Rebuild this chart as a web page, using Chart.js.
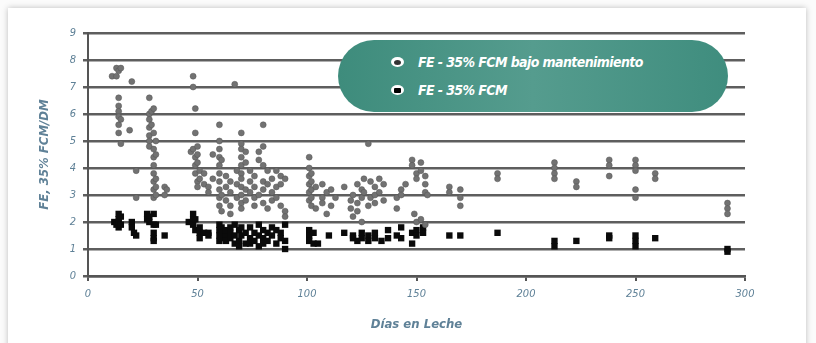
<!DOCTYPE html>
<html>
<head>
<meta charset="utf-8">
<script src="https://cdn.jsdelivr.net/npm/chart.js@4/dist/chart.umd.min.js"></script>
<style>
  html, body { margin: 0; padding: 0; background: #f4f4f4; }
  .wrap { position: relative; width: 816px; height: 343px; overflow: hidden; background: #fbfbfb; }
  .card { position: absolute; left: 8px; top: 8px; width: 798px; height: 345px; background: #fff;
          box-shadow: 0 0 6px rgba(0,0,0,0.25); }
  canvas { position: absolute; left: 0; top: 0; }
  .legend { position: absolute; left: 338px; top: 40px; width: 390px; height: 72px; border-radius: 36px;
            background: linear-gradient(90deg, #3e8c7c, #559c8e 50%, #3f8d7e);
            font-family: "DejaVu Sans Condensed", "Liberation Sans", sans-serif;
            font-style: italic; font-weight: bold; color: #fff; font-size: 14px; letter-spacing: -0.6px; }
  .legend div { position: absolute; left: 80px; white-space: nowrap; }
  .legend span.m { position: absolute; left: -27px; top: 3px; width: 13px; height: 10px; border-radius: 50%; background: #fff; }
  .legend span.m i { position: absolute; left: 3px; top: 2.5px; width: 7px; height: 5px; background: #333; border-radius: 50%; }
  .legend span.m i.sq { border-radius: 1px; background: #000; }
</style>
</head>
<body>
<div class="wrap">
  <div class="card"></div>
  <canvas id="c" width="816" height="343"></canvas>
  <div class="legend">
    <div style="top:14px"><span class="m"><i></i></span>FE - 35% FCM bajo mantenimiento</div>
    <div style="top:42px"><span class="m"><i class="sq"></i></span>FE - 35% FCM</div>
  </div>
</div>
<script>
// FE - 35% FCM bajo mantenimiento (grey)
const greyDays = [
  11, 13, 13, 14, 14, 14, 14, 14, 14, 14, 15, 15, 15,
  20, 19, 22, 22,
  28, 28, 28, 28, 28, 28, 28, 29, 29,
  30, 30, 30, 30, 30, 30, 30, 30, 30, 31, 31, 31, 31, 31,
  35, 35, 36,
  47, 48, 48, 48, 49, 49, 49, 49, 49, 50, 50, 50, 50, 50, 51, 51, 53, 53, 55, 55, 57, 57,
  60, 60, 60, 60, 60, 60, 60, 60, 60, 60, 61, 61, 61, 63, 63, 63, 65, 65, 65, 65,
  67, 68, 68, 68,
  70, 70, 70, 70, 70, 70, 70, 70, 70, 70, 70, 72, 72, 72, 72, 74, 74, 74, 76, 76, 76, 76,
  78, 78, 78, 80, 80, 80, 80, 80, 80, 82, 82, 82, 84, 84, 84, 86, 86, 86, 88, 88, 88, 90, 90, 90,
  101, 101, 101, 101, 101, 101, 102, 102, 102, 102, 102, 104, 104, 107, 107, 107, 109, 109, 111, 111, 113,
  117, 120, 120, 121, 121, 123, 123, 123, 125, 125, 125, 126, 126, 128, 128, 129, 129,
  131, 131, 131, 133, 133, 135, 135, 141, 141, 143, 143, 145,
  148, 148, 149, 150, 150, 150, 152, 152, 152, 154, 154, 154, 154, 155,
  165, 165, 170, 170, 170, 187, 187,
  213, 213, 213, 213, 223, 223, 238, 238, 238, 250, 250, 250, 250, 250, 259, 259, 292, 292, 292
];
const greyFE = [
  7.4, 7.4, 7.7, 7.6, 6.6, 6.3, 6.1, 5.9, 5.6, 5.3, 4.9, 5.8, 7.7,
  7.2, 5.4, 3.9, 2.9,
  6.6, 6.0, 5.8, 5.5, 5.2, 5.0, 4.8, 6.1, 5.6,
  6.2, 5.3, 4.7, 4.4, 4.1, 3.8, 3.5, 3.2, 2.9, 5.0, 4.5, 3.6, 3.0, 3.3,
  3.3, 3.0, 3.2,
  4.6, 7.4, 7.0, 4.7, 6.2, 5.3, 4.4, 4.1, 3.8, 4.8, 4.5, 4.2, 3.5, 3.3, 3.9, 3.6, 3.8, 3.4, 3.3, 3.1, 4.5, 3.6,
  5.6, 5.0, 4.7, 4.4, 4.1, 3.8, 3.5, 3.2, 2.9, 2.6, 4.3, 3.0, 2.4, 3.7, 3.3, 2.8, 3.5, 3.1, 2.6, 2.3,
  7.1, 3.9, 3.4, 2.9,
  5.3, 4.9, 4.7, 4.4, 4.1, 3.8, 3.6, 3.3, 3.0, 2.7, 2.5, 4.6, 4.2, 3.2, 2.8, 3.9, 3.5, 3.1, 3.7, 3.3, 2.9, 2.6,
  4.6, 4.3, 3.0, 5.6, 4.8, 4.1, 3.5, 3.2, 2.7, 3.9, 3.4, 2.5, 3.6, 3.1, 2.8, 3.9, 3.3, 2.9, 3.7, 3.4, 2.6, 3.6, 2.4, 2.2,
  4.4, 4.0, 3.7, 3.4, 3.1, 2.8, 3.8, 3.5, 3.2, 2.9, 2.6, 3.3, 2.5, 3.4, 2.9, 2.7, 2.3, 3.1, 2.6, 3.2, 2.9,
  3.3, 2.8, 2.5, 3.0, 2.2, 3.4, 2.7, 2.4, 2.9, 3.2, 2.0, 3.6, 3.1, 4.9, 2.6, 3.5, 2.9,
  3.3, 3.0, 2.7, 3.6, 3.1, 3.4, 2.8, 2.9, 2.5, 3.2, 3.0, 3.4,
  4.3, 4.1, 2.3, 3.8, 3.6, 2.0, 4.2, 3.9, 2.1, 3.7, 3.4, 3.1, 1.9, 3.0,
  3.3, 3.1, 3.2, 2.9, 2.6, 3.8, 3.6,
  4.2, 4.0, 3.8, 3.6, 3.5, 3.3, 4.3, 4.1, 3.7, 4.3, 4.1, 3.9, 3.2, 2.9, 3.8, 3.6, 2.7, 2.5, 2.3
];

// FE - 35% FCM (black)
const blackDays = [
  12, 13, 14, 14, 14, 14, 15, 15, 20, 20, 21, 22,
  27, 27, 28, 28, 30, 30, 30, 30, 30, 31, 35,
  46, 48, 48, 48, 49, 49, 51, 51, 51, 53, 55, 55,
  60, 60, 60, 60, 61, 61, 61, 63, 63, 63, 65, 65, 65, 67, 67, 67, 69, 69, 69, 70, 70,
  72, 72, 74, 74, 74, 76, 76, 78, 78, 78, 80, 80, 80, 82, 82, 84, 84, 86, 86, 88, 88, 90, 90, 90,
  101, 101, 101, 103, 103, 105, 110, 117, 121, 121, 123, 125, 125, 128, 128, 131, 131, 134,
  137, 137, 141, 143, 143, 148, 148, 150, 150, 153, 153,
  165, 170, 187, 213, 213, 223, 238, 238, 250, 250, 250, 259, 292, 292
];
const blackFE = [
  2.0, 1.9, 2.3, 2.1, 2.0, 1.8, 2.2, 1.9, 2.0, 1.8, 1.6, 1.5,
  2.3, 2.1, 2.2, 2.0, 2.3, 1.9, 1.6, 1.4, 1.3, 1.9, 1.5,
  2.0, 2.3, 2.1, 1.9, 2.1, 1.7, 1.4, 1.6, 1.8, 1.6, 1.6, 1.5,
  1.9, 1.7, 1.5, 1.3, 1.8, 1.6, 1.4, 1.5, 1.3, 1.7, 1.8, 1.4, 1.6, 1.9, 1.5, 1.2, 1.7, 1.3, 1.1, 1.5, 1.8,
  1.6, 1.2, 1.8, 1.4, 1.2, 1.6, 1.3, 1.9, 1.5, 1.1, 1.7, 1.4, 1.2, 1.6, 1.3, 1.8, 1.5, 1.7, 1.2, 1.6, 1.4, 1.9, 1.3, 1.0,
  1.7, 1.5, 1.3, 1.6, 1.2, 1.2, 1.5, 1.6, 1.5, 1.4, 1.3, 1.6, 1.4, 1.5, 1.3, 1.6, 1.4, 1.3,
  1.7, 1.4, 1.5, 1.8, 1.4, 1.6, 1.2, 1.7, 1.5, 1.6, 1.8,
  1.5, 1.5, 1.6, 1.3, 1.1, 1.3, 1.5, 1.4, 1.5, 1.3, 1.1, 1.4, 1.0, 0.9
];

const xTicks = [0, 50, 100, 150, 200, 250, 300];
const yTicks = [0, 1, 2, 3, 4, 5, 6, 7, 8, 9];

const fam = '"DejaVu Sans Condensed", "Liberation Sans", sans-serif';
const axisFont = { family: fam, size: 11, style: 'italic' };
const titleFont = { family: fam, size: 13, style: 'italic', weight: 'bold' };
const blue = '#5f8197';

const toPoints = (xs, ys) => xs.map((x, i) => ({ x: x, y: ys[i] }));

new Chart(document.getElementById('c'), {
  type: 'scatter',
  data: {
    datasets: [
      {
        label: 'FE - 35% FCM',
        data: toPoints(blackDays, blackFE),
        pointStyle: 'rect',
        pointRadius: 4.5,
        backgroundColor: '#0a0a0a',
        borderColor: '#0a0a0a',
        borderWidth: 0,
        order: 2
      },
      {
        label: 'FE - 35% FCM bajo mantenimiento',
        data: toPoints(greyDays, greyFE),
        pointStyle: 'circle',
        pointRadius: 3,
        backgroundColor: '#727272',
        borderColor: '#555',
        borderWidth: 0.5,
        order: 1
      }
    ]
  },
  options: {
    responsive: false,
    animation: false,
    layout: { padding: { left: 0, right: 71, top: 33, bottom: 7 } },
    plugins: { legend: { display: false }, tooltip: { enabled: false } },
    scales: {
      x: {
        type: 'linear', min: 0, max: 300,
        afterBuildTicks: s => { s.ticks = xTicks.map(v => ({ value: v })); },
        afterFit: s => { s.height = 60; },
        border: { color: '#555', width: 2.5 },
        grid: { drawOnChartArea: false, drawTicks: true, tickLength: 5, color: '#555', lineWidth: 2 },
        ticks: { color: blue, font: axisFont, padding: 7, maxRotation: 0 },
        title: { display: true, text: 'Días en Leche', color: blue, font: titleFont, padding: { top: 8 } }
      },
      y: {
        min: 0, max: 9,
        afterBuildTicks: s => { s.ticks = yTicks.map(v => ({ value: v })); },
        afterFit: s => { s.width = 88; },
        border: { color: '#555', width: 2 },
        grid: { color: '#5e5e5e', lineWidth: 2.5, tickLength: 5 },
        ticks: { color: blue, font: axisFont, padding: 7 },
        title: { display: true, text: 'FE, 35% FCM/DM', color: blue, font: titleFont, padding: { top: 37 } }
      }
    }
  }
});
</script>
</body>
</html>
